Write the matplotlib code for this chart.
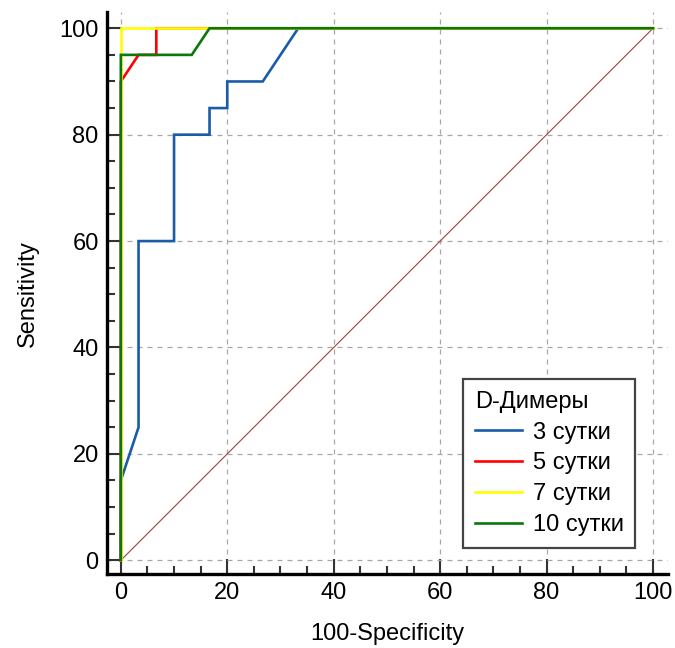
import matplotlib
matplotlib.use("Agg")
import matplotlib.pyplot as plt
from matplotlib.ticker import MultipleLocator

plt.rcParams['font.family'] = ['Liberation Sans', 'DejaVu Sans']

# Data
fpr_3 = [0, 0, 3.33, 3.33, 10, 10, 16.67, 16.67, 20, 20, 26.67, 33.33, 100]
tpr_3 = [0, 15, 25, 60, 60, 80, 80, 85, 85, 90, 90, 100, 100]
fpr_5 = [0, 0, 3.33, 6.67, 6.67, 100]
tpr_5 = [0, 90, 95, 95, 100, 100]
fpr_7 = [0, 0, 100]
tpr_7 = [0, 100, 100]
fpr_10 = [0, 0, 13.33, 16.67, 100]
tpr_10 = [0, 95, 95, 100, 100]
labels = ['3 сутки', '5 сутки', '7 сутки', '10 сутки']
colors = ['#1a5ca8', '#ff0000', '#ffff00', '#0a780a']
legend_title = 'D-Димеры'

fig = plt.figure(figsize=(6.75, 6.48), dpi=100)
ax = fig.add_axes([0.1585, 0.114, 0.831, 0.867])

ax.plot([0, 100], [0, 100], color='#a04040', lw=0.8, zorder=2)
series = [(fpr_3, tpr_3), (fpr_5, tpr_5), (fpr_7, tpr_7), (fpr_10, tpr_10)]
for (x, y), lab, c in zip(series, labels, colors):
    ax.plot(x, y, color=c, lw=1.9, label=lab, zorder=3, solid_joinstyle='miter')

ax.set_xlim(-2.6, 102.8)
ax.set_ylim(-2.6, 103)
ax.xaxis.set_major_locator(MultipleLocator(20))
ax.yaxis.set_major_locator(MultipleLocator(20))
ax.xaxis.set_minor_locator(MultipleLocator(5))
ax.yaxis.set_minor_locator(MultipleLocator(5))
ax.grid(True, which='major', linestyle=(0, (4, 4)), color='#a8a8a8', lw=0.9)
ax.set_axisbelow(True)

for s in ['top', 'right']:
    ax.spines[s].set_visible(False)
for s in ['left', 'bottom']:
    ax.spines[s].set_linewidth(2.4)
    ax.spines[s].set_color('black')

ax.tick_params(which='major', direction='in', length=11, width=1.5, color='#333333', labelsize=17, pad=6)
ax.tick_params(which='minor', direction='in', length=6, width=1.5, color='#333333')

ax.set_xlabel('100-Specificity', fontsize=17, labelpad=13)
ax.set_ylabel('Sensitivity', fontsize=17, labelpad=15)

leg = ax.legend(title=legend_title, loc='lower right', bbox_to_anchor=(0.963, 0.026),
                fontsize=17, title_fontsize=17, fancybox=False, framealpha=1,
                edgecolor='#444444', handlelength=2.0, handletextpad=0.45,
                borderpad=0.5, labelspacing=0.37)
leg._legend_box.align = 'left'
leg.get_frame().set_linewidth(1.6)

fig.savefig('out.png', dpi=100)
